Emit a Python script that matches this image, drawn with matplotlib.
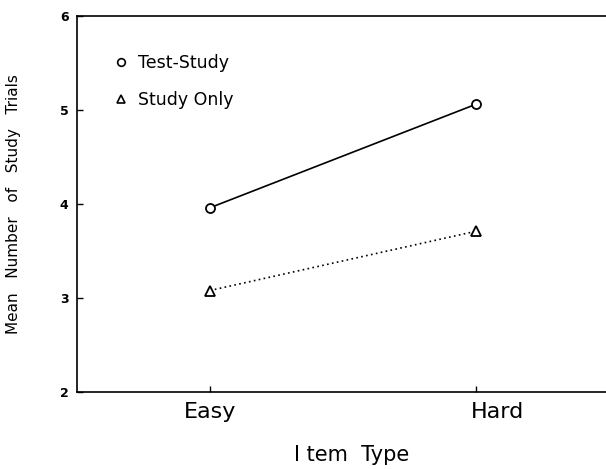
import matplotlib
matplotlib.use("Agg")
import matplotlib.pyplot as plt
import matplotlib.transforms as mtransforms
from matplotlib.lines import Line2D

# values
item_types = ["Easy", "Hard"]
test_study = [3.96, 5.06]
study_only = [3.08, 3.71]
y_ticks = [2, 3, 4, 5, 6]

plt.rcParams["font.family"] = ["DejaVu Sans"]

fig = plt.figure(figsize=(6.06, 4.69), dpi=100)
ax = fig.add_axes([0.127, 0.164, 0.873, 0.802])

x = list(range(len(item_types)))
ax.plot(x, test_study, color="black", linestyle="-", linewidth=1.2,
        marker="o", markersize=6.5, markerfacecolor="white", markeredgecolor="black",
        markeredgewidth=1.3)
ax.plot(x, study_only, color="black", linestyle=(0, (1, 2)), linewidth=1.2,
        marker="^", markersize=6.5, markerfacecolor="white", markeredgecolor="black",
        markeredgewidth=1.3)

ax.set_xlim(-0.5, 1.49)
ax.set_ylim(2, 6)
ax.set_xticks(x)
ax.set_xticklabels(item_types, fontsize=16)
ax.set_yticks(y_ticks)
ax.set_yticklabels([str(t) for t in y_ticks], fontsize=9, fontweight="bold")
ax.tick_params(direction="in", length=4, width=1)
ax.tick_params(axis="x", pad=7)
ax.tick_params(axis="y", pad=6)

# "Hard" sits a little right of its tick in the original
lbl = ax.get_xticklabels()[1]
lbl.set_transform(lbl.get_transform() + mtransforms.ScaledTranslation(0.22, 0, fig.dpi_scale_trans))

ax.spines["right"].set_visible(False)
for s in ["left", "top", "bottom"]:
    ax.spines[s].set_linewidth(1.2)

ax.set_ylabel("Mean   Number   of   Study   Trials", fontsize=11)
ax.yaxis.set_label_coords(-0.105, 0.5)
ax.set_xlabel("I tem  Type", fontsize=15)
ax.xaxis.label.set_va("center")
ax.xaxis.set_label_coords(0.52, -0.168)

handles = [
    Line2D([], [], color="black", linestyle="none", marker="o", markersize=5.5,
           markerfacecolor="white", markeredgewidth=1.2),
    Line2D([], [], color="black", linestyle="none", marker="^", markersize=5.5,
           markerfacecolor="white", markeredgewidth=1.2),
]
ax.legend(handles, ["Test-Study", "Study Only"], loc="upper left",
          bbox_to_anchor=(0.04, 0.94), frameon=False, fontsize=12.5,
          handlelength=0.8, handletextpad=0.6, labelspacing=1.1)

fig.savefig("out.png", dpi=100)
